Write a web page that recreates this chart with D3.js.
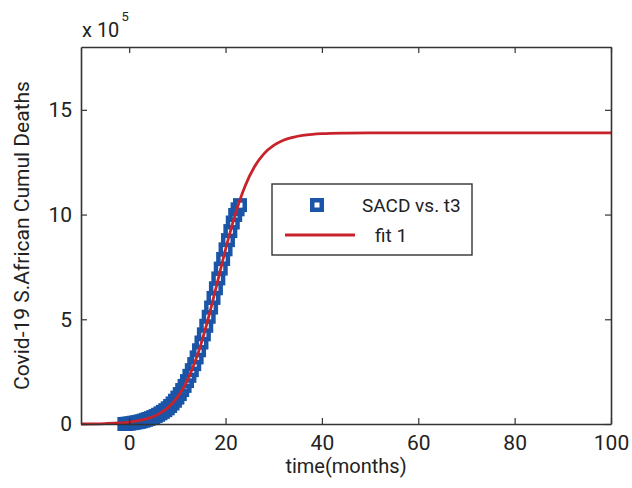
<!DOCTYPE html>
<html>
<head>
<meta charset="utf-8">
<script src="https://cdn.jsdelivr.net/npm/d3@7"></script>
<style>
  body { margin: 0; background: #fff; }
  text { font-family: Roboto, "Liberation Sans", sans-serif; fill: #222; }
</style>
</head>
<body>
<div id="chart"></div>
<script>
// Data (deaths in units of 10^5)
const tMonths = [-1, -0.5, 0, 0.5, 1, 1.5, 2, 2.5, 3, 3.5, 4, 4.5, 5, 5.5, 6, 6.5, 7, 7.5, 8, 8.5, 9, 9.5, 10, 10.5,
  11, 11.5, 12, 12.5, 13, 13.5, 14, 14.5, 15, 15.5, 16, 16.5, 17, 17.5, 18, 18.5, 19, 19.5, 20, 20.5, 21, 21.5, 22, 22.5, 23];
const sacd = [0.0, 0.01, 0.02, 0.04, 0.06, 0.08, 0.1, 0.13, 0.16, 0.2, 0.24, 0.28, 0.33, 0.38, 0.44, 0.51, 0.58, 0.66, 0.75, 0.86, 0.98, 1.11, 1.26, 1.43,
  1.62, 1.82, 2.05, 2.3, 2.57, 2.86, 3.18, 3.52, 3.89, 4.28, 4.69, 5.12, 5.56, 6.02, 6.48, 6.95, 7.42, 7.88, 8.34, 8.78, 9.21, 9.62, 9.98, 10.25, 10.45];
const fitT = [-10, -5, 0, 2, 4, 6, 8, 10, 12, 14, 16, 18, 20, 22, 24, 26, 28, 30, 32, 34, 36, 38, 40, 45, 50, 60, 70, 80, 90, 100];
const fitY = [0.0, 0.02, 0.09, 0.16, 0.27, 0.46, 0.77, 1.27, 2.05, 3.18, 4.69, 6.48, 8.34, 10.0, 11.33, 12.28, 12.91, 13.3, 13.55, 13.69, 13.78, 13.83, 13.86, 13.89, 13.9, 13.9, 13.9, 13.9, 13.9, 13.9];
const xTicks = [0, 20, 40, 60, 80, 100];
const yTicks = [0, 5, 10, 15];
const legendLabels = ['SACD vs. t3', 'fit 1'];

const width = 632;
const height = 488;
const margin = { t: 47, r: 21, b: 64, l: 81 };
const w = width - margin.l - margin.r;
const h = height - margin.t - margin.b;

const blue = '#1a55a8';
const red = '#c8232b';
const axisColor = '#333';
const mSize = 9.5; // marker inner size, stroke adds the rest

const svg = d3
  .select('#chart')
  .append('svg')
  .attr('width', width)
  .attr('height', height);

const g = svg.append('g').attr('transform', `translate(${margin.l}, ${margin.t})`);

const xScale = d3.scaleLinear([-10, 100], [0, w]);
const yScale = d3.scaleLinear([0, 18], [h, 0]);

// data markers
g.append('g')
  .selectAll('rect')
  .data(tMonths)
  .join('rect')
  .attr('x', (d) => xScale(d) - mSize / 2)
  .attr('y', (d, i) => yScale(sacd[i]) - mSize / 2)
  .attr('width', mSize)
  .attr('height', mSize)
  .attr('fill', '#fff')
  .attr('stroke', blue)
  .attr('stroke-width', 4.5);

// fit line
const line = d3
  .line()
  .x((d) => xScale(d))
  .y((d, i) => yScale(fitY[i]))
  .curve(d3.curveMonotoneX);

g.append('path')
  .datum(fitT)
  .attr('d', line)
  .attr('fill', 'none')
  .attr('stroke', red)
  .attr('stroke-width', 2.8);

// axes box with inward ticks
const xAxis = d3.axisBottom(xScale).tickValues(xTicks).tickSizeInner(-6).tickSizeOuter(0).tickPadding(11);
const yAxis = d3.axisLeft(yScale).tickValues(yTicks).tickSizeInner(-6).tickSizeOuter(0).tickPadding(9);

g.append('g').attr('transform', `translate(0, ${h})`).call(xAxis);
g.append('g').call(yAxis);
g.append('g').call(d3.axisTop(xScale).tickValues(xTicks).tickSizeInner(-6).tickSizeOuter(0).tickFormat(''));
g.append('g').attr('transform', `translate(${w}, 0)`).call(d3.axisRight(yScale).tickValues(yTicks).tickSizeInner(-6).tickSizeOuter(0).tickFormat(''));

g.selectAll('.domain').attr('stroke', axisColor).attr('stroke-width', 1.6);
g.selectAll('.tick line').attr('stroke', axisColor).attr('stroke-width', 1.2);
g.selectAll('.tick text').style('font-size', '21px').attr('fill', '#222');

// exponent label
const expo = svg.append('text').attr('x', 82).attr('y', 37).style('font-size', '20px');
expo.append('tspan').text('x 10');
expo.append('tspan').attr('dx', 2).attr('dy', -16).style('font-size', '13px').text('5');

// axis names
svg.append('text')
  .attr('text-anchor', 'middle')
  .attr('transform', `translate(${margin.l + w / 2}, 473)`)
  .style('font-size', '20px')
  .text('time(months)');

svg.append('text')
  .attr('text-anchor', 'middle')
  .attr('transform', `translate(29, ${margin.t + h / 2})rotate(-90)`)
  .style('font-size', '21px')
  .text('Covid-19 S.African Cumul Deaths');

// legend
const legend = svg.append('g').attr('transform', 'translate(272, 184)');
legend.append('rect')
  .attr('width', 200)
  .attr('height', 71)
  .attr('fill', '#fff')
  .attr('stroke', axisColor)
  .attr('stroke-width', 1.4);
legend.append('rect')
  .attr('x', 45 - mSize / 2)
  .attr('y', 21 - mSize / 2)
  .attr('width', mSize)
  .attr('height', mSize)
  .attr('fill', '#fff')
  .attr('stroke', blue)
  .attr('stroke-width', 4.5);
legend.append('line')
  .attr('x1', 13)
  .attr('x2', 83)
  .attr('y1', 51)
  .attr('y2', 51)
  .attr('stroke', red)
  .attr('stroke-width', 2.8);
legend.append('text').attr('x', 90).attr('y', 28).style('font-size', '19px').text(legendLabels[0]);
legend.append('text').attr('x', 103).attr('y', 58).style('font-size', '19px').text(legendLabels[1]);
</script>
</body>
</html>
